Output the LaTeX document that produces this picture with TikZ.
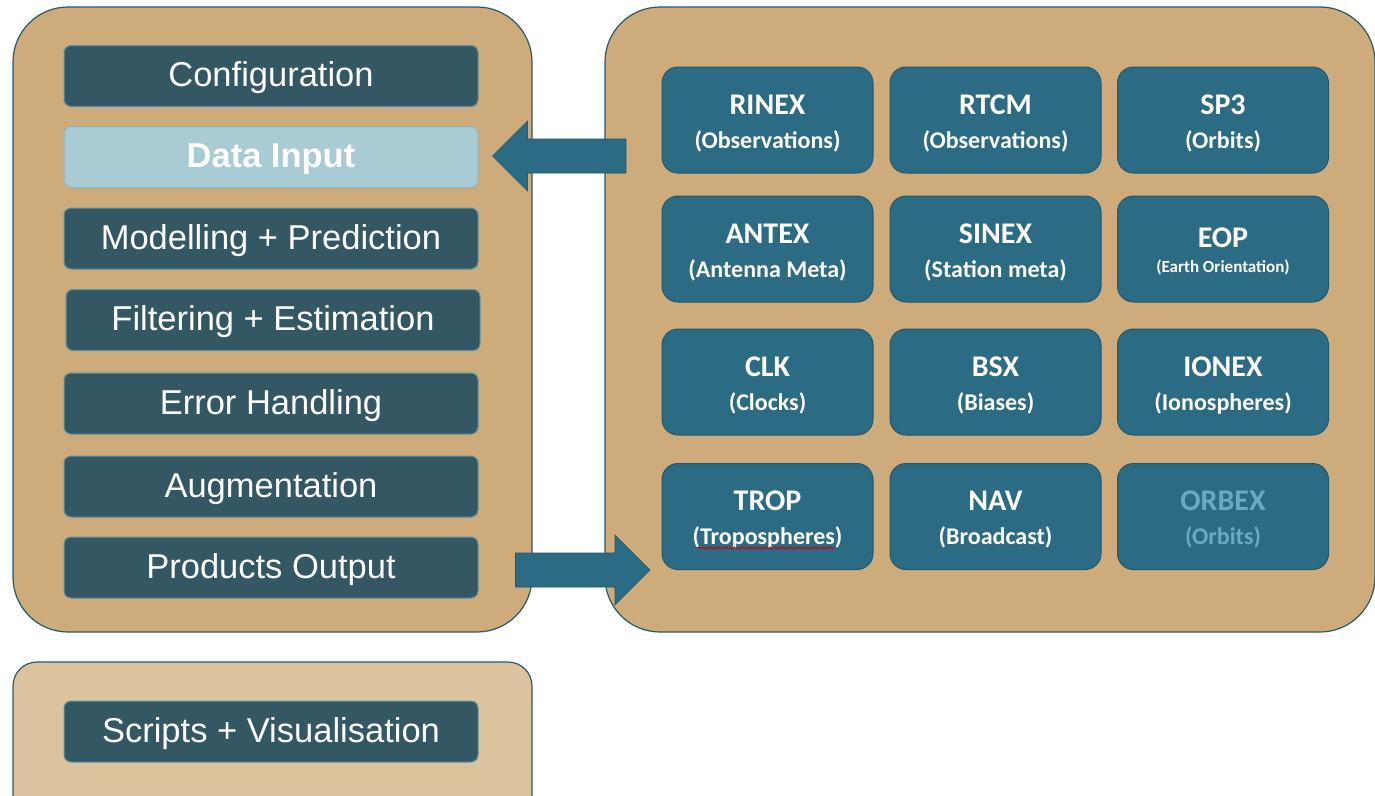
\documentclass[tikz,border=0pt]{standalone}
\usepackage{fontspec}
\newfontfamily\arialfont{Liberation Sans}
\newfontfamily\calfont{Carlito}
\usetikzlibrary{calc,decorations.pathmorphing}

\definecolor{panelfill}{HTML}{CDAB7A}
\definecolor{panellight}{HTML}{DBC39D}
\definecolor{paneledge}{HTML}{2A5A69}
\definecolor{stagefill}{HTML}{335763}
\definecolor{stageedge}{HTML}{5F93A3}
\definecolor{activefill}{HTML}{A9CBD4}
\definecolor{fmtfill}{HTML}{2B6C84}
\definecolor{fmtedge}{HTML}{22586C}
\definecolor{mutedtext}{HTML}{6CAAC4}

\newcommand\subfont{\calfont\bfseries\fontsize{24}{34}\selectfont}
\newcommand\tinysubfont{\calfont\bfseries\fontsize{17}{25}\selectfont}

\tikzset{
  panel/.style={fill=panelfill, draw=paneledge, line width=1.2pt, rounded corners=55pt},
  stage/.style={rectangle, fill=stagefill, draw=stageedge, line width=1pt,
    rounded corners=7pt, minimum width=414pt, minimum height=61pt, inner sep=0pt,
    text height=28pt, text depth=6.5pt,
    text=white, font=\arialfont\fontsize{34.5}{38}\selectfont},
  active/.style={stage, fill=activefill, draw=stageedge!70, font=\arialfont\bfseries\fontsize{34.5}{38}\selectfont},
  fmt/.style={rectangle, fill=fmtfill, draw=fmtedge, line width=1pt,
    rounded corners=16pt, minimum width=211pt, minimum height=106pt, inner sep=0pt,
    text height=62pt, text depth=6pt,
    text=white, align=center, font=\calfont\bfseries\fontsize{30}{34}\selectfont},
  flow/.style={fill=fmtfill, draw=fmtedge, line width=0.6pt},
}

% horizontal block arrow: #1 tail, #2 tip
\newcommand\blockarrow[2]{%
  \filldraw[flow] let \p1=(#1), \p2=(#2), \n1={sign(\x2-\x1)} in
    (\x1,\y1+17pt) -- (\x2-\n1*35pt,\y1+17pt) -- (\x2-\n1*35pt,\y1+35pt)
    -- (\x2,\y1) -- (\x2-\n1*35pt,\y1-35pt) -- (\x2-\n1*35pt,\y1-17pt)
    -- (\x1,\y1-17pt) -- cycle;}

\begin{document}
\begin{tikzpicture}[x=1pt,y=-1pt]
\useasboundingbox (0,0) rectangle (1375,795);
\clip (0,0) rectangle (1375,795);

% containers
\draw[panel] (13,7) rectangle (532,632);
\draw[panel] (605,7) rectangle (1375,632);
\draw[panel, fill=panellight, rounded corners=24pt] (13,662) rectangle (532,830);

% processing stages
\node[stage]  (config) at (271,76)    {Configuration};
\node[active] (datain) at (271,157)   {Data Input};
\node[stage]  (model)  at (271,238.5) {Modelling + Prediction};
\node[stage]  (filter) at (273,320)   {Filtering + Estimation};
\node[stage]  (errors) at (271,403.5) {Error Handling};
\node[stage]  (augm)   at (271,486.5) {Augmentation};
\node[stage]  (prodout) at (271,567.5) {Products Output};
\node[stage]  (scripts) at (271,731.5) {Scripts + Visualisation};

% data formats
\node[fmt] (rinex) at (767.5,120) {RINEX\\{\subfont (Observations)}};
\node[fmt] (rtcm)  at (995.5,120) {RTCM\\{\subfont (Observations)}};
\node[fmt] (sp3)   at (1223,120)  {SP3\\{\subfont (Orbits)}};
\node[fmt] (antex) at (767.5,249) {ANTEX\\{\subfont (Antenna Meta)}};
\node[fmt] (sinex) at (995.5,249) {SINEX\\{\subfont (Station meta)}};
\node[fmt, text height=50pt, text depth=4pt] (eop) at (1223,249)
  {EOP\\[-9pt]{\tinysubfont (Earth Orientation)}};
\node[fmt] (clk)   at (767.5,382) {CLK\\{\subfont (Clocks)}};
\node[fmt] (bsx)   at (995.5,382) {BSX\\{\subfont (Biases)}};
\node[fmt] (ionex) at (1223,382)  {IONEX\\{\subfont (Ionospheres)}};
\node[fmt] (trop)  at (767.5,516.5) {TROP\\{\subfont (Tropospheres)}};
\node[fmt] (nav)   at (995.5,516.5) {NAV\\{\subfont (Broadcast)}};
\node[fmt, text=mutedtext] (orbex) at (1223,516.5) {ORBEX\\{\subfont (Orbits)}};

% spell-check squiggle under the troposphere label
\draw[red!80!black, line width=0.8pt, decorate,
      decoration={snake, amplitude=1pt, segment length=4pt}]
  ($(trop.center)+(-70.5,31.5)$) -- ($(trop.center)+(67.5,31.5)$);

% data flow arrows
\coordinate (inTail) at (626,156);
\coordinate (inTip) at ($(datain.east)+(14,-1)$);
\blockarrow{inTail}{inTip}
\coordinate (outTail) at ($(prodout.east)+(37,2.5)$);
\coordinate (outTip) at (650,570);
\blockarrow{outTail}{outTip}
\end{tikzpicture}
\end{document}
